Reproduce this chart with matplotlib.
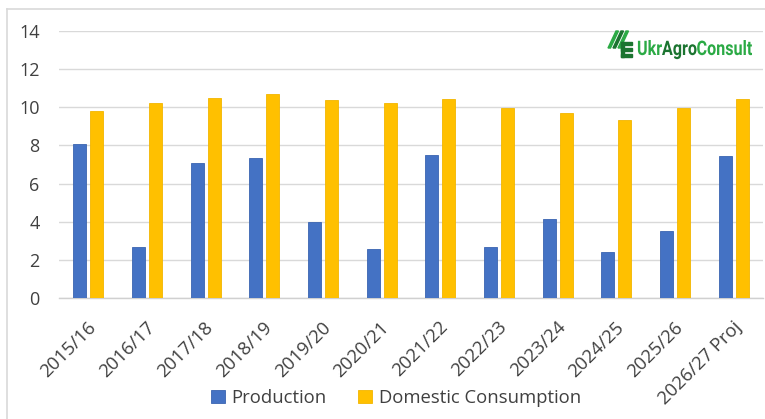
import numpy as np
import matplotlib.pyplot as plt
from matplotlib.patches import Polygon, Rectangle, PathPatch
from matplotlib.textpath import TextPath
from matplotlib.font_manager import FontProperties
from matplotlib.transforms import Affine2D, IdentityTransform, ScaledTranslation

# data (million t)
seasons = ['2015/16', '2016/17', '2017/18', '2018/19', '2019/20', '2020/21',
           '2021/22', '2022/23', '2023/24', '2024/25', '2025/26', '2026/27 Proj']
production = [8.07, 2.7, 7.07, 7.32, 3.96, 2.55, 7.5, 2.65, 4.12, 2.43, 3.49, 7.47]
consumption = [9.79, 10.21, 10.49, 10.7, 10.37, 10.24, 10.45, 9.97, 9.69, 9.35, 9.97, 10.45]
y_ticks = [0, 2, 4, 6, 8, 10, 12, 14]

txt_col = '#404040'
plt.rcParams['font.family'] = ['Open Sans', 'DejaVu Sans']

W, H = 765, 419
fig = plt.figure(figsize=(W / 100, H / 100), dpi=100)
ax = fig.add_axes([59 / W, 1 - 298 / H, 704 / W, 267 / H])

x = np.arange(len(seasons))
w = 0.22
off = 0.145
ax.bar(x - off, production, w, color='#4472C4', edgecolor='#3A64B0', lw=0.6,
       label='Production', zorder=3)
ax.bar(x + off, consumption, w, color='#FFC000', edgecolor='#F2B600', lw=0.6,
       label='Domestic Consumption', zorder=3)

ax.set_xlim(-0.5, len(seasons) - 0.5)
ax.set_ylim(0, 14)
ax.set_yticks(y_ticks)
ax.set_yticklabels([str(v) for v in y_ticks], fontsize=13, color=txt_col)
ax.yaxis.grid(True, color='#D9D9D9', lw=1.0, zorder=0)
ax.tick_params(axis='y', length=0, pad=14)
ax.tick_params(axis='x', length=0, pad=19)
ax.set_xticks(x)
ax.set_xticklabels(seasons, rotation=45, ha='right', va='center',
                   rotation_mode='anchor', fontsize=13.3, color=txt_col)
shift = ScaledTranslation(5 / 100, 0, fig.dpi_scale_trans)
for lab in ax.get_xticklabels():
    lab.set_transform(lab.get_transform() + shift)
for s in ['top', 'right', 'left']:
    ax.spines[s].set_visible(False)
ax.spines['bottom'].set_color('#D0D0D0')
ax.spines['bottom'].set_linewidth(1.0)

fig.legend(loc='center', bbox_to_anchor=(396 / W, 1 - 398 / H), ncol=2,
           frameon=False, fontsize=13.3, handlelength=0.75, handleheight=0.75,
           handletextpad=0.35, columnspacing=1.7, labelcolor=txt_col)

# outer frame (only left and top visible in the crop)
fig.add_artist(plt.Line2D([7 / W, 7 / W], [0, 1 - 9 / H], transform=fig.transFigure,
                          color='#D9D9D9', lw=1.2))
fig.add_artist(plt.Line2D([7 / W, 1], [1 - 9 / H, 1 - 9 / H], transform=fig.transFigure,
                          color='#D9D9D9', lw=1.2))

# logo, drawn in output pixels (y from the top)
light = '#2BAA45'
dark = '#1B7430'


def px(xp, yp):
    return (xp / W, 1 - yp / H)


for dx, c in ((0, light), (5, dark), (10, light)):
    fig.add_artist(Polygon([px(616 + dx, 31), px(618.5 + dx, 31), px(610.5 + dx, 48), px(608 + dx, 48)],
                           closed=True, transform=fig.transFigure, color=c))
for yy in (42, 48, 54):
    fig.add_artist(Rectangle(px(621, yy + 3), 11 / W, 3 / H, transform=fig.transFigure,
                             color=dark))
fig.add_artist(Polygon([px(621, 42), px(624, 42), px(624, 57), px(621, 57)],
                       closed=True, transform=fig.transFigure, color=dark))

prop = FontProperties(family='Roboto', weight='bold')
parts = [('Ukr', light), ('Agro', dark), ('Consult', light)]
paths = [TextPath((0, 0), s, size=20, prop=prop) for s, _ in parts]
widths = [p.get_extents().x1 for p in paths]
sx = 115 / sum(widths)   # squeeze to the logo width
sy = 1.0
x0 = 637
base = H - 55
for (s, c), p, wd in zip(parts, paths, widths):
    tr = Affine2D().scale(sx, sy).translate(x0, base) + IdentityTransform()
    fig.add_artist(PathPatch(p, transform=tr, color=c, lw=0))
    x0 += wd * sx

fig.savefig('out.png', dpi=100, facecolor='white')
